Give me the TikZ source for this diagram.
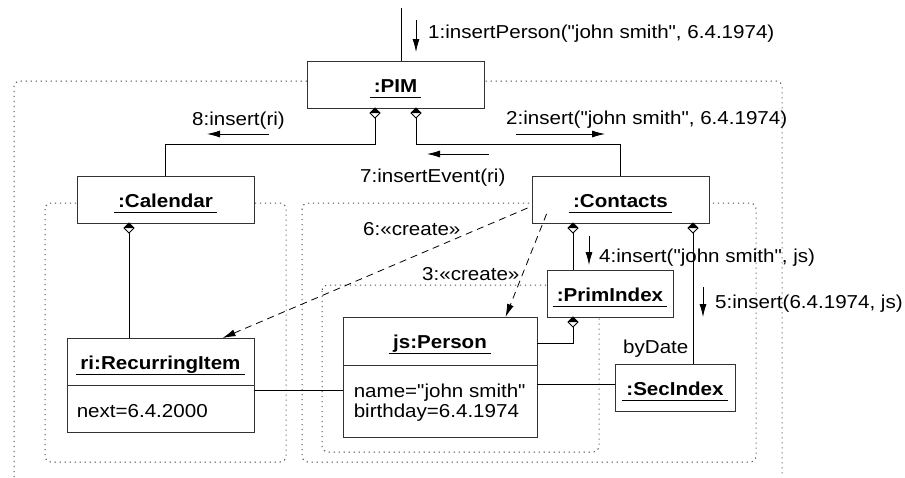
\documentclass[tikz,border=0pt]{standalone}
\usepackage{fontspec}
\newfontfamily\pf{Liberation Sans}[FakeStretch=1.1]
\usetikzlibrary{arrows.meta,calc}
\newcommand\umlobj[6]{%
  \node[obj, minimum width=#4pt, minimum height=#5pt, anchor=north] (#1) at (#2,#3) {};
  \node[ttl] (#1t) at (#2,#3+31.5) {#6};
  \draw[uline] ([xshift=-4pt,yshift=-5pt]#1t.base west) -- ([xshift=4pt,yshift=-5pt]#1t.base east);}
\begin{document}
\begin{tikzpicture}[x=1pt,y=-1pt,
  obj/.style={draw=black!80, line width=0.9pt, fill=white, inner sep=0pt},
  ttl/.style={font=\pf\fontsize{18.7pt}{22pt}\selectfont\bfseries, inner sep=0pt, anchor=base},
  txt/.style={font=\pf\fontsize{18.7pt}{22pt}\selectfont, inner sep=0pt, anchor=base west},
  uline/.style={line width=0.9pt},
  conn/.style={line width=0.8pt},
  msg/.style={line width=0.8pt, -{Latex[length=13pt,width=7pt]}},
  crt/.style={line width=0.8pt, dash pattern=on 7pt off 5pt, -{Latex[length=13pt,width=7pt]}},
  grp/.style={line width=1pt, black!70, dash pattern=on 1.2pt off 3.8pt, rounded corners=6pt},
  dmd/.pic={\filldraw[line width=0.8pt, fill=white] (0,0) -- (5,5) -- (0,10) -- (-5,5) -- cycle;
            \fill (0,0) -- (5,5) -- (-5,5) -- cycle;}
]
\useasboundingbox (0,0) rectangle (905,477);

% groups
\draw[grp] (14,477) -- (14,81) -- (782,81) -- (782,477);
\draw[grp] (45,203) rectangle (286,462);
\draw[grp] (302,203) rectangle (756,462);
\draw[grp] (322,285) rectangle (599,452);

% objects
\umlobj{pim}{395.5}{61}{177}{47}{:PIM}
\umlobj{cal}{165.5}{176}{177}{47}{:Calendar}
\umlobj{con}{620.5}{176}{177}{47}{:Contacts}
\umlobj{pri}{610}{270}{126}{47}{:PrimIndex}
\umlobj{sec}{675}{364}{120}{47}{:SecIndex}
\umlobj{per}{440}{317}{194}{120}{js:Person}
\umlobj{rec}{160.5}{338}{187}{94}{ri:RecurringItem}

% compartments
\draw[obj] ($(per.north west)+(0,48)$) -- ($(per.north east)+(0,48)$);
\draw[obj] ($(rec.north west)+(0,47)$) -- ($(rec.north east)+(0,47)$);
\node[txt] (perA1) at ($(per.north west)+(11,80)$) {name="john smith"};
\node[txt] (perA2) at ($(per.north west)+(11,100)$) {birthday=6.4.1974};
\node[txt] (recA1) at ($(rec.north west)+(10,79)$) {next=6.4.2000};

% diamond positions
\coordinate (dPimL) at (375,108);
\coordinate (dPimR) at (416,108);
\coordinate (dCal) at (129,223);
\coordinate (dConL) at (573,223);
\coordinate (dConR) at (693,223);
\coordinate (dPri) at (573,317);

% links
\coordinate (start) at (401,8);
\draw[conn] (start) -- (start |- pim.north);
\draw[conn] ($(dPimL)+(0,10)$) -- ++(0,26) -| (cal.north);
\draw[conn] ($(dPimR)+(0,10)$) -- ++(0,26) -| (con.north);
\draw[conn] ($(dCal)+(0,10)$) -- (dCal |- rec.north);
\draw[conn] ($(dConL)+(0,10)$) -- (dConL |- pri.north);
\draw[conn] ($(dConR)+(0,10)$) -- (dConR |- sec.north);
\draw[conn] ($(dPri)+(0,10)$) |- ($(per.north east)+(0,26)$);
\draw[conn] ($(per.north east)+(0,67)$) coordinate (pse) -- (pse -| sec.west);
\draw[conn] ($(rec.north east)+(0,52)$) coordinate (rp) -- (rp -| per.west);

\pic at (dPimL) {dmd};
\pic at (dPimR) {dmd};
\pic at (dCal) {dmd};
\pic at (dConL) {dmd};
\pic at (dConR) {dmd};
\pic at (dPri) {dmd};

% create links
\draw[crt] ($(con.north west)+(-4,32)$) -- ($(rec.north west)+(156,0)$);
\draw[crt] ($(con.south west)+(15,-10)$) -- ($(per.north west)+(163,0)$);

% message arrows
\coordinate (a1s) at (416,20);  \coordinate (a1e) at (416,52);
\coordinate (a2s) at (516,134); \coordinate (a2e) at (605,134);
\coordinate (a8s) at (269,134); \coordinate (a8e) at (207,134);
\coordinate (a7s) at (489,154); \coordinate (a7e) at (427,154);
\coordinate (a4s) at (589,236); \coordinate (a4e) at (589,265);
\coordinate (a5s) at (703,287); \coordinate (a5e) at (703,317);
\draw[msg] (a1s) -- (a1e);
\draw[msg] (a2s) -- (a2e);
\draw[msg] (a8s) -- (a8e);
\draw[msg] (a7s) -- (a7e);
\draw[msg] (a4s) -- (a4e);
\draw[msg] (a5s) -- (a5e);

% labels
\node[txt] (m1) at (428,38.5) {1:insertPerson("john smith", 6.4.1974)};
\node[txt] (m2) at (506,124) {2:insert("john smith", 6.4.1974)};
\node[txt] (m8) at (192,125) {8:insert(ri)};
\node[txt] (m7) at (360,182) {7:insertEvent(ri)};
\node[txt] (m6) at (363,235) {6:«create»};
\node[txt] (m3) at (422,280) {3:«create»};
\node[txt] (m4) at (599,262) {4:insert("john smith", js)};
\node[txt] (m5) at (715,308) {5:insert(6.4.1974, js)};
\node[txt] (bd) at (623,353) {byDate};
\end{tikzpicture}
\end{document}
